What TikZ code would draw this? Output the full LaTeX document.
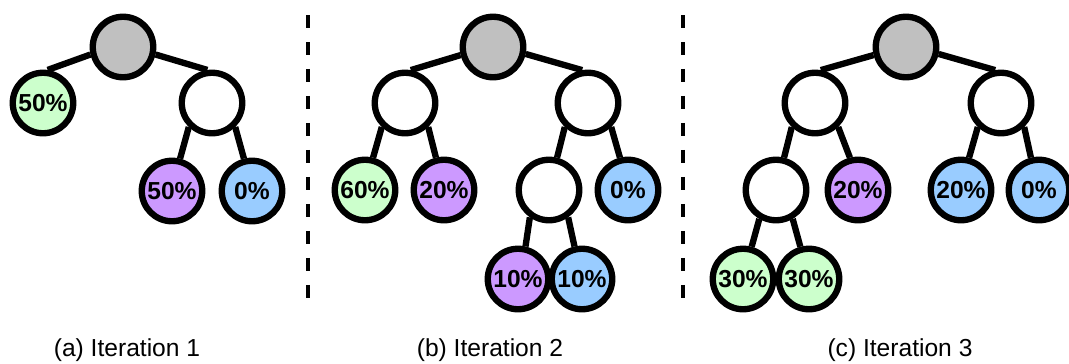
\documentclass[tikz,border=0pt]{standalone}
\usepackage{fontspec}
\setmainfont{Liberation Sans}
\usetikzlibrary{positioning}
\definecolor{rootgray}{RGB}{192,192,192}
\definecolor{leafgreen}{RGB}{204,255,204}
\definecolor{leafpurple}{RGB}{204,153,255}
\definecolor{leafblue}{RGB}{153,204,255}
\begin{document}
\begin{tikzpicture}[x=0.02cm, y=-0.02cm,
    tnode/.style={circle, draw, line width=3.6pt, minimum size=1.21cm, inner sep=0pt,
                  font=\bfseries\fontsize{14}{14}\selectfont},
    link/.style={line width=3.6pt},
    caption/.style={font=\fontsize{14}{14}\selectfont}]
    \useasboundingbox (0,0) rectangle (1069,363);
    % (a)
    \node[tnode, fill=rootgray] (a0) at (123,47) {};
    \node[tnode, fill=leafgreen] (a1) at (43,103) {50\%};
    \node[tnode, fill=white] (a2) at (212,103) {};
    \node[tnode, fill=leafpurple] (a3) at (172,191) {50\%};
    \node[tnode, fill=leafblue] (a4) at (252,191) {0\%};
    % (b)
    \node[tnode, fill=rootgray] (b0) at (493,47) {};
    \node[tnode, fill=white] (b1) at (405,103) {};
    \node[tnode, fill=white] (b2) at (588,103) {};
    \node[tnode, fill=leafgreen] (b3) at (365,190) {60\%};
    \node[tnode, fill=leafpurple] (b4) at (444,190) {20\%};
    \node[tnode, fill=white] (b5) at (549,190) {};
    \node[tnode, fill=leafblue] (b6) at (628,190) {0\%};
    \node[tnode, fill=leafpurple] (b7) at (518,279) {10\%};
    \node[tnode, fill=leafblue] (b8) at (582,279) {10\%};
    % (c)
    \node[tnode, fill=rootgray] (c0) at (906,47) {};
    \node[tnode, fill=white] (c1) at (815,103) {};
    \node[tnode, fill=white] (c2) at (1001,103) {};
    \node[tnode, fill=white] (c3) at (776,190) {};
    \node[tnode, fill=leafpurple] (c4) at (858,190) {20\%};
    \node[tnode, fill=leafblue] (c5) at (961,190) {20\%};
    \node[tnode, fill=leafblue] (c6) at (1039,190) {0\%};
    \node[tnode, fill=leafgreen] (c7) at (743,279) {30\%};
    \node[tnode, fill=leafgreen] (c8) at (809,279) {30\%};
    \foreach \p/\q/\s/\e in {a0/a1/193/82, a0/a2/347/98, a2/a3/226/76, a2/a4/314/104,
                             b0/b1/194/80, b0/b2/348/100, b1/b3/226/76, b1/b4/314/104,
                             b2/b5/226/76, b2/b6/314/104, b5/b7/235/77, b5/b8/305/103,
                             c0/c1/194/80, c0/c2/348/100, c1/c3/226/76, c1/c4/314/104,
                             c2/c5/226/76, c2/c6/314/104, c3/c7/240/75, c3/c8/300/105}
    {
    \draw[link] (\p.\s) -- (\q.\e);
    }
    % separators
    \coordinate (s1top) at (308,15);
    \coordinate (s1bot) at (308,303);
    \coordinate (s2top) at (683,15);
    \coordinate (s2bot) at (683,303);
    \draw[line width=2.4pt, dash pattern=on 0.26cm off 0.28cm] (s1top) -- (s1bot);
    \draw[line width=2.4pt, dash pattern=on 0.26cm off 0.28cm] (s2top) -- (s2bot);
    \node[caption] (capa) at (127,350) {(a) Iteration 1};
    \node[caption] (capb) at (490,350) {(b) Iteration 2};
    \node[caption] (capc) at (900,350) {(c) Iteration 3};
\end{tikzpicture}
\end{document}
